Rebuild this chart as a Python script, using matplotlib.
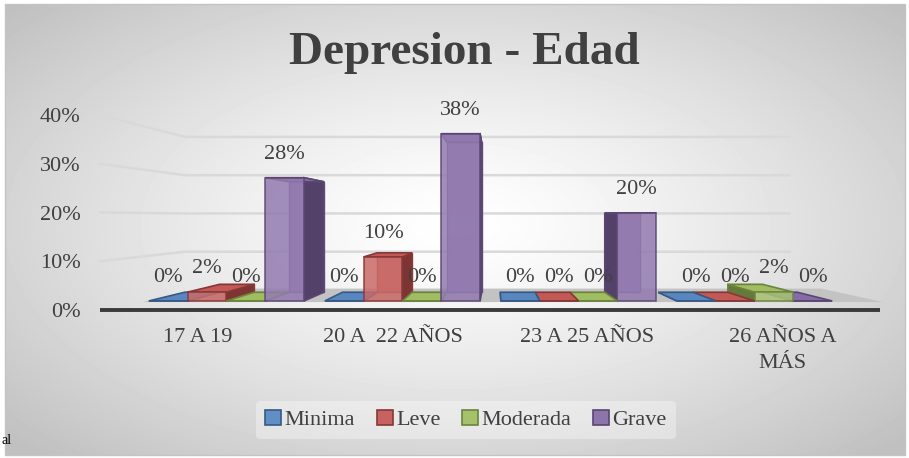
import numpy as np
import matplotlib.pyplot as plt
from matplotlib.patches import Polygon, Rectangle, Patch
from matplotlib import colors as mcolors

# --- data ---
categories = ["17 A 19", "20 A  22 AÑOS", "23 A 25 AÑOS", "26 AÑOS A\nMÁS"]
series_names = ["Minima", "Leve", "Moderada", "Grave"]
minima = [0, 0, 0, 0]
leve = [2, 10, 0, 0]
moderada = [0, 0, 0, 2]
grave = [28, 38, 20, 0]
y_ticks = [0, 10, 20, 30, 40]
series_colors = ["#4F81BD", "#C0504D", "#9BBB59", "#8064A2"]

values = [minima, leve, moderada, grave]
TXT = "#404040"
FONT = "Liberation Serif"
plt.rcParams["font.family"] = [FONT, "DejaVu Serif"]

# --- fake 3d geometry (vanishing point in data units) ---
KV, VV = 1.526, 19.1
S_FRONT, S_BACK, S_WALL = 0.903, 0.81, 0.785
BAR_W = 0.2205


def proj(k, v, s):
    return (KV + (k - KV) * s, VV + (v - VV) * s)


def shade(c, f):
    r = np.array(mcolors.to_rgb(c))
    if f >= 0:
        return tuple(r + (1 - r) * f)
    return tuple(r * (1 + f))


fig = plt.figure(figsize=(9.09, 4.58), dpi=100)

# --- background with radial gradient ---
bg = fig.add_axes([0, 0, 1, 1])
bg.set_xlim(0, 909)
bg.set_ylim(458, 0)
yy, xx = np.mgrid[0:458, 0:909]
r = np.sqrt(((xx - 455) / 470.0) ** 2 + ((yy - 225) / 245.0) ** 2)
g = 1 - 0.25 * np.clip(r / 1.3, 0, 1) ** 1.3
inside = (xx >= 5) & (xx <= 905) & (yy >= 4) & (yy <= 455)
g[~inside] = 1.0
bg.imshow(g, extent=(0, 909, 458, 0), cmap="gray", vmin=0, vmax=1, aspect="auto")
bg.add_patch(Rectangle((5, 4), 900, 451, fill=False, ec="#c4c4c4", lw=1))
bg.axis("off")

# --- main axes ---
ax = fig.add_axes([100 / 909, (458 - 310) / 458, 780 / 909, 195 / 458])
ax.set_xlim(-0.5, 3.5)
ax.set_ylim(0, 40)
ax.patch.set_visible(False)
for sp in ax.spines.values():
    sp.set_visible(False)

ax.set_yticks(y_ticks)
ax.set_yticklabels([f"{t}%" for t in y_ticks])
ax.set_xticks(range(len(categories)))
ax.set_xticklabels(categories)
ax.tick_params(axis="y", length=0, pad=14, labelsize=16, labelcolor=TXT)
ax.tick_params(axis="x", length=0, pad=13, labelsize=16, labelcolor=TXT)
for lab in ax.get_xticklabels():
    lab.set_linespacing(1.5)

# gridlines on left and back walls
for t in y_ticks[1:]:
    pts = [proj(-0.5, t, 1.0), proj(-0.5, t, S_WALL), proj(3.45, t, S_WALL)]
    ax.plot([p[0] for p in pts], [p[1] for p in pts], color="#d9d9d9", lw=1.8,
            zorder=0.5, clip_on=False, solid_joinstyle="miter")

# floor
floor = [proj(-0.45, 0, 0.915), proj(3.7, 0, 0.915), proj(3.7, 0, 0.77), proj(-0.45, 0, 0.77)]
ax.add_patch(Polygon(floor, closed=True, fc="#c3c3c3", ec="none", zorder=1, clip_on=False))

# axis line
ax.plot([-0.5, 3.5], [0, 0], color="#3a3a3a", lw=2.8, zorder=1.2, clip_on=False,
        solid_capstyle="butt")

# bars, drawn from far (away from vanishing point) to near
bars = []
for j, vals in enumerate(values):
    for i, v in enumerate(vals):
        xl = i - 2 * BAR_W + j * BAR_W
        bars.append((abs(xl + BAR_W / 2 - KV), i, j, xl, v))
bars.sort(key=lambda b: -b[0])

z = 2
for _, i, j, xl, v in bars:
    xr = xl + BAR_W
    c = series_colors[j]
    ec = shade(c, -0.3)
    # back outline (visible through the glassy front)
    back = [proj(xl, 0, S_BACK), proj(xr, 0, S_BACK), proj(xr, v, S_BACK), proj(xl, v, S_BACK)]
    ax.add_patch(Polygon(back, closed=True, fc=shade(c, 0.1), ec=ec, lw=1, alpha=0.9,
                         zorder=z, clip_on=False))
    # side face
    sx = xr if xl + BAR_W / 2 < KV else xl
    side = [proj(sx, 0, S_FRONT), proj(sx, v, S_FRONT), proj(sx, v, S_BACK), proj(sx, 0, S_BACK)]
    ax.add_patch(Polygon(side, closed=True, fc=shade(c, -0.35), ec=ec, lw=1.2,
                         zorder=z + 0.1, clip_on=False))
    # top face
    top = [proj(xl, v, S_FRONT), proj(xr, v, S_FRONT), proj(xr, v, S_BACK), proj(xl, v, S_BACK)]
    ax.add_patch(Polygon(top, closed=True, fc=shade(c, 0.05), ec=ec, lw=1.2,
                         zorder=z + 0.2, clip_on=False))
    # front face
    front = [proj(xl, 0, S_FRONT), proj(xr, 0, S_FRONT), proj(xr, v, S_FRONT), proj(xl, v, S_FRONT)]
    ax.add_patch(Polygon(front, closed=True, fc=shade(c, 0.15), ec=ec, lw=1.2, alpha=0.85,
                         zorder=z + 0.3, clip_on=False))
    ax.annotate(f"{v}%", xy=proj(xl + BAR_W / 2, v, S_FRONT), xytext=(0, 17),
                textcoords="offset points", ha="center", va="center",
                fontsize=16, color=TXT, zorder=20, annotation_clip=False)
    z += 1

# title
fig.text(464 / 909, 1 - 53 / 458, "Depresion - Edad", ha="center", va="center",
         fontsize=34, fontweight="bold", color=TXT)

# legend
handles = [Patch(fc=shade(c, 0.1), ec=shade(c, -0.3), lw=1.2) for c in series_colors]
leg = fig.legend(handles, series_names, loc="center", bbox_to_anchor=(466 / 909, 1 - 420 / 458),
                 ncol=4, fontsize=16, frameon=True, handlelength=0.7, handleheight=0.7,
                 handletextpad=0.15, columnspacing=1.0, borderpad=0.4)
leg.get_frame().set_facecolor("white")
leg.get_frame().set_alpha(0.35)
leg.get_frame().set_edgecolor("none")
for t in leg.get_texts():
    t.set_color(TXT)

# small text fragment at the lower left edge
fig.text(1 / 909, 1 - 440 / 458, "al", ha="left", va="center", fontsize=10, color="black")

fig.savefig("out.png", dpi=100)
